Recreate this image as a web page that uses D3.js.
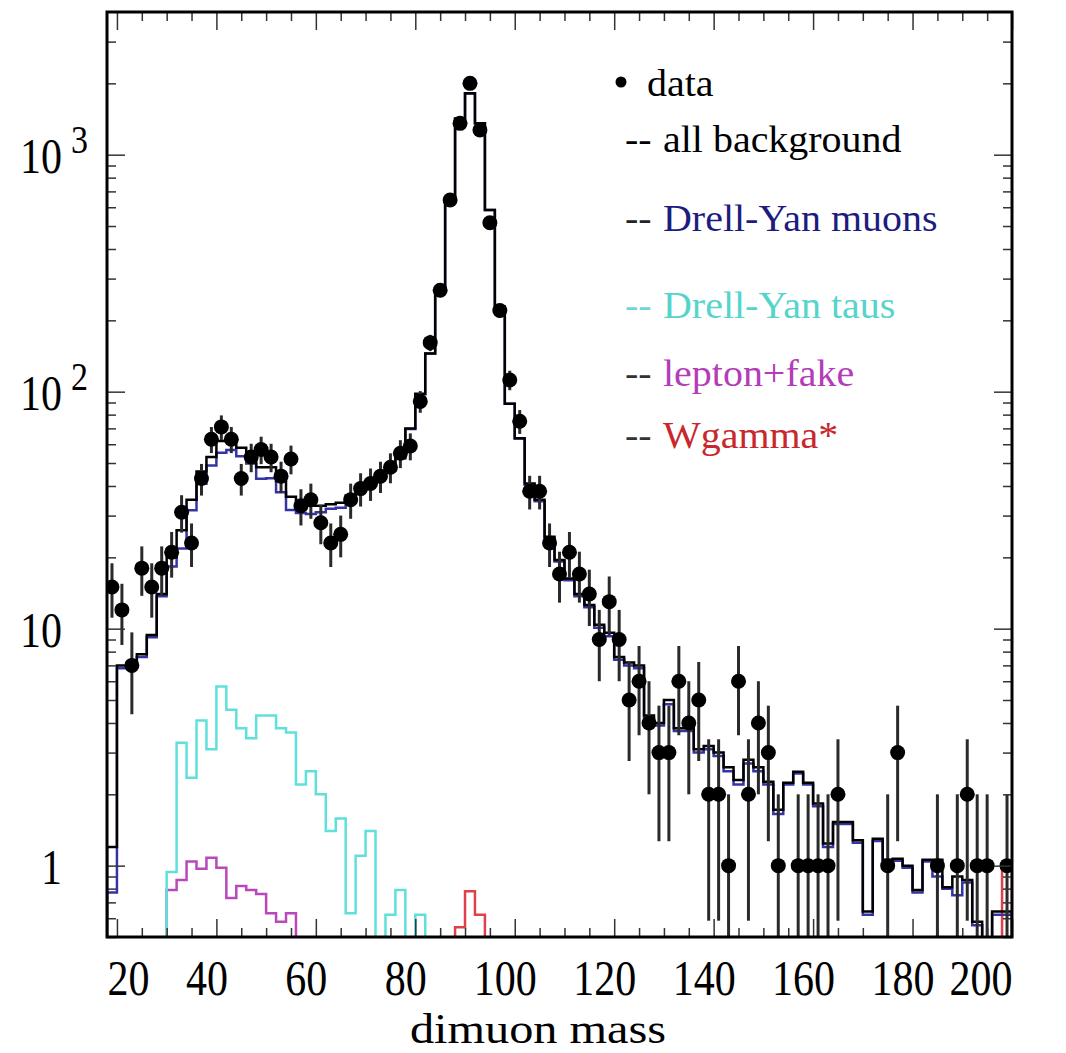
<!DOCTYPE html>
<html>
<head>
<meta charset="utf-8">
<script src="https://cdnjs.cloudflare.com/ajax/libs/d3/7.8.5/d3.min.js"></script>
<style>
  body { margin: 0; background: #fff; }
  svg { display: block; font-family: "Liberation Serif", "DejaVu Serif", serif; }
</style>
</head>
<body>
<svg id="chart"></svg>
<script>
// binning: 2 GeV bins starting at 18 GeV
const binLow = 18;
const binW = 2;

// all background, one value per bin (19, 21, ... 199)
const allBkg = [1.2, 7.0, 7.2, 7.8, 9.4, 14, 20, 26, 35, 46, 53, 62, 62, 58, 54, 48, 48, 42, 36, 33,
  33, 33, 33.5, 34, 36.5, 39, 41.5, 44.5, 47, 53, 70, 98, 145, 268, 644, 1420, 1815, 1356, 584, 228,
  89, 63.6, 41, 35, 24.4, 19.5, 16.3, 14, 12.6, 10.4, 9.6, 7.6, 7.2, 7.0, 4.3, 4.0, 5.0, 3.8, 3.8, 3.1,
  3.2, 3.0, 2.6, 2.3, 2.8, 2.6, 2.26, 1.72, 2.24, 2.49, 2.24, 1.83, 1.24, 1.53, 1.53, 1.28, 0.64, 1.3, 1.06, 1.07,
  1.0, 0.79, 1.06, 1.06, 0.81, 0.9, 0.87, 0.58, 0.45, 0.64, 0.64];

// Drell-Yan muons
const dyMuons = [0.77, 6.8, 7.0, 7.6, 9.2, 13.7, 18.3, 21.8, 31.6, 40.9, 48.8, 55.3, 56.7, 53.4, 49.8, 42.9, 43.1, 37.6, 31.7, 30.8,
  30.5, 31.0, 32.1, 32.4, 35.9, 37.9, 40.1, 44.3, 46.4, 52.2, 69.5, 97.5, 145, 268, 643, 1419, 1814, 1356, 584, 228,
  89, 63.5, 40.5, 34.5, 24, 19.2, 16, 13.7, 12.3, 10.1, 9.3, 7.4, 7.0, 6.8, 4.2, 3.9, 4.8, 3.7, 3.7, 3.0,
  3.1, 2.9, 2.5, 2.2, 2.7, 2.5, 2.2, 1.65, 2.2, 2.45, 2.2, 1.78, 1.2, 1.5, 1.5, 1.25, 0.62, 1.27, 1.04, 1.05,
  0.98, 0.77, 1.04, 0.9, 0.8, 0.75, 0.85, 0.56, 0.44, 0.62, 0.62];

// Drell-Yan taus, first bin starts at 30 GeV
const tauStart = 30;
const dyTaus = [0.94, 3.3, 2.35, 4.1, 3.1, 5.7, 4.55, 3.8, 3.45, 4.3, 4.3, 3.8, 3.65, 2.2, 2.5, 2.0, 1.4, 1.58, 0.63, 1.1,
  1.4, 0, 0.62, 0.79, 0, 0.62];

// lepton+fake, first bin starts at 30 GeV
const fakeStart = 30;
const lepFake = [0.79, 0.87, 1.04, 0.97, 1.08, 0.98, 0.73, 0.82, 0.79, 0.76, 0.63, 0.58, 0.63];

// Wgamma*, full range
const wGamma = [0, 0, 0, 0, 0, 0, 0, 0, 0, 0, 0, 0, 0, 0, 0, 0, 0, 0, 0, 0,
  0, 0, 0, 0, 0, 0, 0, 0, 0, 0, 0, 0, 0, 0, 0, 0.55, 0.78, 0.62, 0, 0,
  0, 0, 0, 0, 0, 0, 0, 0, 0, 0, 0, 0, 0, 0, 0, 0, 0, 0, 0, 0,
  0, 0, 0, 0, 0, 0, 0, 0, 0, 0, 0, 0, 0, 0, 0, 0, 0, 0, 0, 0,
  0, 0, 0, 0, 0, 0, 0, 0, 0, 0, 1.0];

// data counts per bin (null = empty bin)
const dataCounts = [15, 12, 7, 18, 15, 18, 21, 31, 23, 43, 63, 71, 63, 43, 53, 57, 53, 44, 52, 33,
  35, 28, 23, 25, 35, 39, 41, 44, 48, 55, 59, 91, 161, 268, 644, 1356, 2000, 1271, 516, 220,
  112, 75, 38, 38, 23, 17, 21, 17, 14, 9, 13, 9, 5, 6, 4, 3, 3, 6, 4, 5,
  2, 2, 1, 6, 2, 4, 3, 1, null, 1, 1, 1, 1, 2, null, null, null, null, 1, 3,
  null, null, null, 1, null, 1, 2, 1, 1, null, 1];

const xTicks = [20, 40, 60, 80, 100, 120, 140, 160, 180, 200];
const yTicks = [1, 10, 100, 1000];
const yTickBase = ["1", "10", "10", "10"];
const yTickExp = ["", "", "2", "3"];

const legendLabels = ["data", "all background", "Drell-Yan muons", "Drell-Yan taus", "lepton+fake", "Wgamma*"];
const legendColors = ["#000", "#000", "#1c1c80", "#55d4cc", "#b43cb8", "#c8282c"];
const dashColors = ["#000", "#000", "#222", "#6cd8d4", "#333", "#333"];

const width = 1066, height = 1053;
const frame = { left: 107, right: 1012, top: 12, bottom: 937 };

const svg = d3.select("#chart").attr("width", width).attr("height", height);
svg.append("rect").attr("width", width).attr("height", height).attr("fill", "#fff");

const x = d3.scaleLinear().domain([18, 200]).range([frame.left, frame.right]);
const y = d3.scaleLog().domain([0.5, 4000]).range([frame.bottom, frame.top]);

svg.append("clipPath").attr("id", "plotclip")
  .append("rect")
  .attr("x", frame.left).attr("y", frame.top)
  .attr("width", frame.right - frame.left).attr("height", frame.bottom - frame.top);

const plot = svg.append("g").attr("clip-path", "url(#plotclip)");

// ---- ticks
const minorX = d3.range(20, 201, 5).filter(d => d % 20 !== 0);
const minorY = [];
[0.1, 1, 10, 100, 1000].forEach(dec => {
  for (let k = 2; k <= 9; k++) {
    const v = dec * k;
    if (v >= 0.5 && v < 4000) minorY.push(v);
  }
});

function tickAxis(axis, transform) {
  const g = svg.append("g").attr("transform", transform).call(axis);
  g.select(".domain").remove();
  g.selectAll("line").attr("stroke", "#333").attr("stroke-width", 1.5);
  g.selectAll("text").remove();
}
tickAxis(d3.axisBottom(x).tickValues(xTicks).tickSize(-18), `translate(0,${frame.bottom})`);
tickAxis(d3.axisBottom(x).tickValues(minorX).tickSize(-9), `translate(0,${frame.bottom})`);
tickAxis(d3.axisTop(x).tickValues(xTicks).tickSize(-18), `translate(0,${frame.top})`);
tickAxis(d3.axisTop(x).tickValues(minorX).tickSize(-9), `translate(0,${frame.top})`);
tickAxis(d3.axisLeft(y).tickValues(yTicks).tickSize(-18), `translate(${frame.left},0)`);
tickAxis(d3.axisLeft(y).tickValues(minorY).tickSize(-9), `translate(${frame.left},0)`);
tickAxis(d3.axisRight(y).tickValues(yTicks).tickSize(-18), `translate(${frame.right},0)`);
tickAxis(d3.axisRight(y).tickValues(minorY).tickSize(-9), `translate(${frame.right},0)`);

// ---- histograms
const floorV = 0.3;
function histPoints(vals, start) {
  const pts = [[start, 0]];
  vals.forEach((v, i) => {
    pts.push([start + i * binW, v]);
    pts.push([start + (i + 1) * binW, v]);
  });
  pts.push([start + vals.length * binW, 0]);
  return pts;
}
const histLine = d3.line()
  .x(d => x(d[0]))
  .y(d => y(Math.max(d[1], floorV)));

const hists = [
  { vals: wGamma, start: binLow, color: "#e0404a", w: 2.5 },
  { vals: lepFake, start: fakeStart, color: "#b848bc", w: 2.5 },
  { vals: dyTaus, start: tauStart, color: "#5fe0dc", w: 2.5 },
  { vals: dyMuons, start: binLow, color: "#3434a4", w: 2.5 },
  { vals: allBkg, start: binLow, color: "#000", w: 2.5 }
];
hists.forEach(h => {
  plot.append("path")
    .attr("d", histLine(histPoints(h.vals, h.start)))
    .attr("fill", "none")
    .attr("stroke", h.color)
    .attr("stroke-width", h.w);
});

// ---- data points with sqrt(N) errors
const points = dataCounts
  .map((n, i) => ({ m: binLow + binW * (i + 0.5), n }))
  .filter(d => d.n !== null);

plot.selectAll(".err")
  .data(points)
  .enter().append("line")
  .attr("class", "err")
  .attr("x1", d => x(d.m)).attr("x2", d => x(d.m))
  .attr("y1", d => y(d.n + Math.sqrt(d.n)))
  .attr("y2", d => y(Math.max(d.n - Math.sqrt(d.n), floorV)))
  .attr("stroke", "#2a2a2a")
  .attr("stroke-width", 3);

plot.selectAll(".dot")
  .data(points)
  .enter().append("circle")
  .attr("class", "dot")
  .attr("cx", d => x(d.m))
  .attr("cy", d => y(d.n))
  .attr("r", 7.5)
  .attr("fill", "#000");

// ---- frame
svg.append("rect")
  .attr("x", frame.left).attr("y", frame.top)
  .attr("width", frame.right - frame.left).attr("height", frame.bottom - frame.top)
  .attr("fill", "none").attr("stroke", "#000").attr("stroke-width", 3);

// ---- tick labels (tall serif digits, kept inside the frame width)
const xLab = svg.append("g")
  .attr("transform", `translate(0,${frame.bottom})`)
  .call(d3.axisBottom(x).tickValues(xTicks).tickSize(0).tickFormat(d3.format("d")));
xLab.select(".domain").remove();
xLab.selectAll("text")
  .attr("font-family", "Liberation Serif, serif")
  .attr("font-size", 42)
  .attr("fill", "#000")
  .attr("y", 0).attr("dy", 0)
  .each(function (d) {
    const w = this.getComputedTextLength();
    let cx = x(d) - 10;
    cx = Math.max(frame.left + w / 2, Math.min(frame.right - w / 2, cx));
    d3.select(this).attr("transform", `translate(${cx - x(d)},58) scale(1,1.2)`);
  });

const yLab = svg.append("g")
  .attr("transform", `translate(${frame.left},0)`)
  .call(d3.axisLeft(y).tickValues(yTicks).tickSize(0).tickFormat((d, i) => yTickBase[i]));
yLab.select(".domain").remove();
yLab.selectAll("text")
  .attr("font-family", "Liberation Serif, serif")
  .attr("font-size", 42)
  .attr("fill", "#000")
  .attr("x", 0).attr("dy", 0)
  .attr("transform", "translate(-45,18) scale(1,1.2)");
yLab.selectAll(".tick").each(function (d, i) {
  if (!yTickExp[i]) return;
  d3.select(this).append("text")
    .attr("font-family", "Liberation Serif, serif")
    .attr("font-size", 34)
    .attr("fill", "#000")
    .attr("text-anchor", "start")
    .attr("transform", "translate(-36,-2) scale(1,1.2)")
    .text(yTickExp[i]);
});

// ---- axis title
svg.append("text")
  .attr("transform", "translate(538,1043) scale(1.15,1)")
  .attr("text-anchor", "middle")
  .attr("font-size", 42)
  .text("dimuon mass");

// ---- legend
const legendY = [96, 152, 231, 318, 386, 448];
const leg = svg.append("g");
legendLabels.forEach((lab, i) => {
  const row = leg.append("g").attr("transform", `translate(0,${legendY[i]})`);
  if (i === 0) {
    row.append("circle").attr("cx", 621).attr("cy", -14).attr("r", 5.5).attr("fill", "#000");
    row.append("text")
      .attr("transform", "translate(647,0) scale(1.08,1)")
      .attr("font-size", 37).attr("fill", legendColors[i]).text(lab);
  } else {
    row.append("text").attr("transform", "translate(625,0) scale(1.08,1)")
      .attr("font-size", 37).attr("fill", dashColors[i]).text("--");
    row.append("text").attr("transform", "translate(663,0) scale(1.08,1)")
      .attr("font-size", 37).attr("fill", legendColors[i]).text(lab);
  }
});
</script>
</body>
</html>
